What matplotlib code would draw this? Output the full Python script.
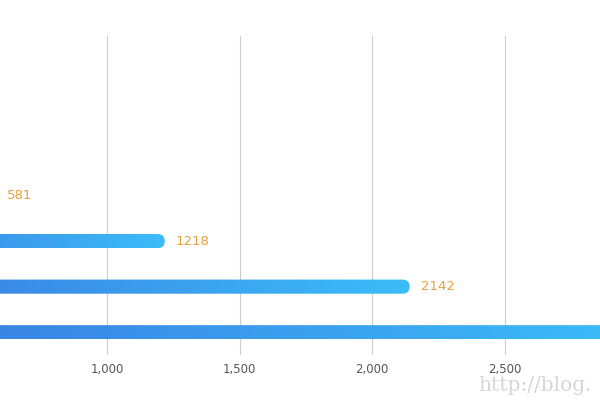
import matplotlib.pyplot as plt
import numpy as np
from matplotlib.patches import FancyBboxPatch
from matplotlib.colors import LinearSegmentedColormap

# datos (las 3 primeras barras quedan fuera del recorte)
categorias = ["A", "B", "C", "D", "E", "F", "G"]
valores = [3000, 2142, 1218, 581, 300, 220, 150]
ticks_x = [1000, 1500, 2000, 2500]

fig = plt.figure(figsize=(6, 4), dpi=100)
# el eje empieza fuera de la figura (grafico recortado)
ax = fig.add_axes([-158 / 600, 45 / 400, 927.5 / 600, 319 / 400])
ax.set_xlim(0, 3500)
ax.set_ylim(-0.5, len(categorias) - 0.5)

gradiente = LinearSegmentedColormap.from_list("azul", ["#3a78e0", "#3cbcf8"])
alto = 0.31

barras = ax.barh(np.arange(len(categorias)), valores, height=alto, alpha=0)

# conversion pixel -> datos para redondear las puntas
fig.canvas.draw()
inv = ax.transData.inverted()
p0 = inv.transform((0, 0))
p1 = inv.transform((1, 1))
ux = p1[0] - p0[0]
uy = p1[1] - p0[1]
radio = 7 * ux

for barra, v in zip(barras, valores):
    x0, y0 = barra.get_x(), barra.get_y()
    w, h = barra.get_width(), barra.get_height()
    caja = FancyBboxPatch((x0, y0), w, h,
                          boxstyle="round,pad=0,rounding_size=%f" % radio,
                          mutation_aspect=uy / ux,
                          facecolor="none", edgecolor="none")
    ax.add_patch(caja)
    img = ax.imshow(np.linspace(0, 1, 256).reshape(1, -1), cmap=gradiente,
                    extent=[x0, x0 + w, y0, y0 + h], aspect="auto",
                    interpolation="bicubic", zorder=2)
    img.set_clip_path(caja)
    # solo las etiquetas que caen dentro del recorte
    px = ax.transData.transform((x0 + w, 0))[0]
    if px < -5 or px > 560:
        continue
    ax.annotate(str(v), (x0 + w, y0 + h / 2), xytext=(8, 0),
                textcoords="offset points", va="center", ha="left",
                color="#e8a13a", fontsize=9.5, zorder=3)

ax.set_xticks(ticks_x)
ax.set_xticklabels(["{:,}".format(t) for t in ticks_x])
ax.tick_params(axis="x", length=0, pad=6, labelsize=8.5, labelcolor="#555555")
ax.set_yticks([])
ax.grid(True, axis="x", color="#cccccc", linewidth=0.8)
ax.set_axisbelow(True)
for s in ax.spines.values():
    s.set_visible(False)

# marca de agua
fig.text(0.797, 0.022, "http://blog.", color="#d6d6d6", fontsize=14.5,
         family="DejaVu Serif")

fig.savefig("out.png")
